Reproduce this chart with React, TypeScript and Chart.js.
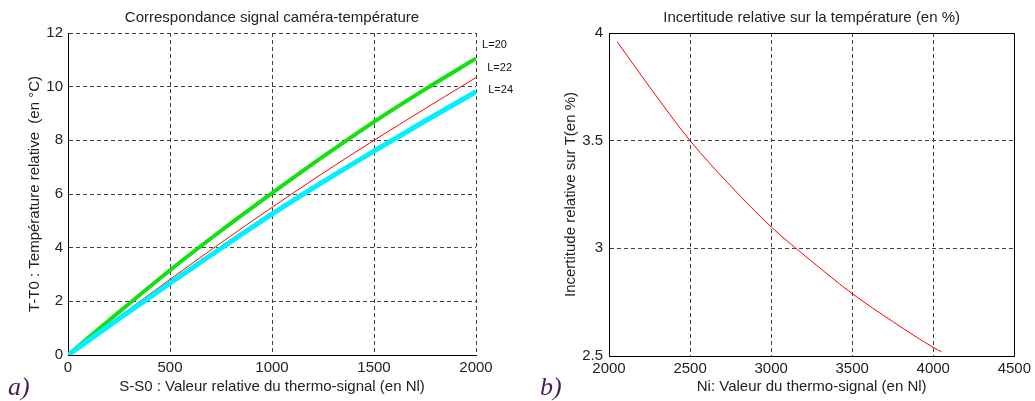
import React, { useEffect, useRef } from "react";
import { Chart, registerables } from "chart.js";

Chart.register(...registerables);

// ---- Data ----
const signalX = [0, 250, 500, 750, 1000, 1250, 1500, 1750, 2000];
const tempL20 = [0, 1.6, 3.16, 4.63, 6.03, 7.39, 8.69, 9.9, 11.05];
const tempL22 = [0, 1.43, 2.82, 4.18, 5.5, 6.78, 8.0, 9.18, 10.34];
const tempL24 = [0, 1.35, 2.68, 3.98, 5.25, 6.45, 7.6, 8.72, 9.81];

const curveLabels = ["L=20", "L=22", "L=24"];
const curveLabelX = [2030, 2055, 2060];
const curveLabelY = [11.55, 10.7, 9.87];

const niX = [2050, 2250, 2500, 2750, 3000, 3250, 3500, 3750, 4000, 4050];
const uncertainty = [3.96, 3.75, 3.5, 3.29, 3.1, 2.94, 2.79, 2.66, 2.54, 2.52];

const leftTitle = "Correspondance signal caméra-température";
const rightTitle = "Incertitude relative sur la température (en %)";
const leftXTitle = "S-S0 : Valeur relative du thermo-signal (en Nl)";
const leftYTitle = "T-T0 : Température relative  (en °C)";
const rightXTitle = "Ni: Valeur du thermo-signal (en Nl)";
const rightYTitle = "Incertitude relative sur T(en %)";

const FONT = "'Liberation Sans', Arial, Helvetica, sans-serif";
const TEXT = "#222222";
const GRID = "#404040";

const decorPlugin = {
  id: "panelDecor",
  afterDraw(chart: any, _args: any, opts: any) {
    const { ctx, chartArea: a } = chart;
    ctx.save();
    ctx.setLineDash([]);
    if (opts.frame) {
      ctx.strokeStyle = "#000";
      ctx.lineWidth = 1;
      const l = Math.round(a.left) + 0.5;
      const r = Math.round(a.right) + 0.5;
      const t = Math.round(a.top) + 0.5;
      const b = Math.round(a.bottom) + 0.5;
      ctx.beginPath();
      ctx.moveTo(l, b);
      ctx.lineTo(l, t);
      ctx.lineTo(r, t);
      ctx.lineTo(r, b);
      ctx.stroke();
    }
    ctx.fillStyle = TEXT;
    ctx.font = `15px ${FONT}`;
    ctx.textAlign = "center";
    ctx.textBaseline = "alphabetic";
    ctx.fillText(opts.title, (a.left + a.right) / 2, 22);
    if (opts.labels) {
      const xs = chart.scales.x;
      const ys = chart.scales.y;
      ctx.font = `11px ${FONT}`;
      ctx.textAlign = "left";
      ctx.textBaseline = "middle";
      ctx.fillStyle = "#111";
      opts.labels.forEach((t: string, i: number) => {
        ctx.fillText(t, xs.getPixelForValue(opts.labelX[i]), ys.getPixelForValue(opts.labelY[i]));
      });
    }
    ctx.restore();
  },
};

function axisCommon(extra: any) {
  return {
    type: "linear",
    grid: { color: GRID, lineWidth: 1, drawTicks: false, display: true },
    border: { display: true, color: "#000", width: 1, dash: [4, 3] },
    ...extra,
  };
}

function tickFont() {
  return { family: FONT, size: 15 };
}

const plain = (v: any) => String(v);

export default function App() {
  const leftRef = useRef<HTMLCanvasElement>(null);
  const rightRef = useRef<HTMLCanvasElement>(null);

  useEffect(() => {
    const pts = (xs: number[], ys: number[]) => xs.map((x, i) => ({ x, y: ys[i] }));
    const left = new Chart(leftRef.current as HTMLCanvasElement, {
      type: "line",
      data: {
        datasets: [
          { label: "L=24", data: pts(signalX, tempL24), borderColor: "#00f0ff", borderWidth: 5, pointRadius: 0, cubicInterpolationMode: "monotone" },
          { label: "L=22", data: pts(signalX, tempL22), borderColor: "#ff0000", borderWidth: 1, pointRadius: 0, cubicInterpolationMode: "monotone" },
          { label: "L=20", data: pts(signalX, tempL20), borderColor: "#14e010", borderWidth: 4, pointRadius: 0, cubicInterpolationMode: "monotone" },
        ],
      } as any,
      options: {
        animation: false,
        responsive: false,
        devicePixelRatio: 1,
        events: [],
        layout: { padding: { top: 33, right: 44, bottom: 0, left: 0 }, autoPadding: false },
        plugins: {
          legend: { display: false },
          tooltip: { enabled: false },
          panelDecor: { title: leftTitle, frame: false, labels: curveLabels, labelX: curveLabelX, labelY: curveLabelY },
        } as any,
        scales: {
          x: axisCommon({
            min: 0,
            max: 2000,
            ticks: { stepSize: 500, padding: 4, color: TEXT, font: tickFont(), autoSkip: false, maxRotation: 0, callback: plain },
            title: { display: true, text: leftXTitle, color: TEXT, font: { family: FONT, size: 15 }, padding: { top: 0, bottom: 5 } },
            afterFit: (s: any) => { s.height = 46; },
          }),
          y: axisCommon({
            min: 0,
            max: 12,
            ticks: { stepSize: 2, padding: 5, color: TEXT, font: tickFont(), autoSkip: false, callback: plain },
            title: { display: true, text: leftYTitle, color: TEXT, font: { family: FONT, size: 15 }, padding: { top: 26, bottom: 0 } },
            afterFit: (s: any) => { s.width = 68; },
          }),
        } as any,
      },
      plugins: [decorPlugin as any],
    });

    const right = new Chart(rightRef.current as HTMLCanvasElement, {
      type: "line",
      data: {
        datasets: [
          { label: "Incertitude", data: pts(niX, uncertainty), borderColor: "#ff0000", borderWidth: 1, pointRadius: 0, cubicInterpolationMode: "monotone" },
        ],
      } as any,
      options: {
        animation: false,
        responsive: false,
        devicePixelRatio: 1,
        events: [],
        layout: { padding: { top: 33, right: 18, bottom: 0, left: 0 }, autoPadding: false },
        plugins: {
          legend: { display: false },
          tooltip: { enabled: false },
          panelDecor: { title: rightTitle, frame: true },
        } as any,
        scales: {
          x: axisCommon({
            min: 2000,
            max: 4500,
            ticks: { stepSize: 500, padding: 4, color: TEXT, font: tickFont(), autoSkip: false, maxRotation: 0, callback: plain },
            title: { display: true, text: rightXTitle, color: TEXT, font: { family: FONT, size: 15 }, padding: { top: 0, bottom: 5 } },
            afterFit: (s: any) => { s.height = 45; },
          }),
          y: axisCommon({
            min: 2.5,
            max: 4,
            ticks: { stepSize: 0.5, padding: 6, color: TEXT, font: tickFont(), autoSkip: false, callback: plain },
            title: { display: true, text: rightYTitle, color: TEXT, font: { family: FONT, size: 15 }, padding: { top: 42, bottom: 0 } },
            afterFit: (s: any) => { s.width = 89; },
          }),
        } as any,
      },
      plugins: [decorPlugin as any],
    });

    return () => {
      left.destroy();
      right.destroy();
    };
  }, []);

  const tag: React.CSSProperties = {
    position: "absolute",
    fontFamily: "'Liberation Serif', 'Times New Roman', serif",
    fontStyle: "italic",
    fontSize: 26,
    lineHeight: "26px",
    color: "#4a1c55",
    whiteSpace: "nowrap",
  };

  return (
    <div style={{ position: "absolute", left: 0, top: 0, width: 1035, height: 401, background: "#fff", overflow: "hidden" }}>
      <canvas ref={leftRef} width={520} height={401} style={{ position: "absolute", left: 0, top: 0, width: 520, height: 401 }} />
      <canvas ref={rightRef} width={515} height={401} style={{ position: "absolute", left: 520, top: 0, width: 515, height: 401 }} />
      <span style={{ ...tag, left: 8, top: 374 }}>a)</span>
      <span style={{ ...tag, left: 540, top: 374 }}>b)</span>
    </div>
  );
}
